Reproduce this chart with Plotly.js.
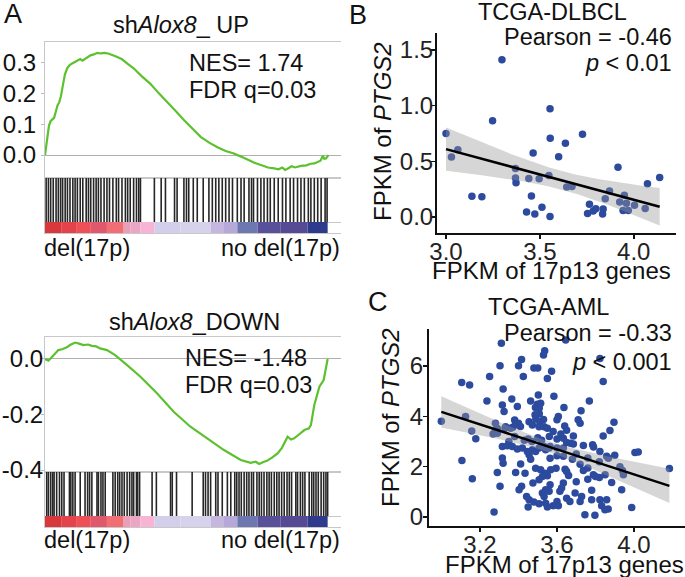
<!DOCTYPE html>
<html lang="en">
<head>
    <meta charset="UTF-8">
    <title>GSEA and PTGS2 correlation</title>
    <script src="https://cdn.plot.ly/plotly-3.0.1.min.js"></script>
    <style>
        body { margin: 0; padding: 0; background: white; }
        #plot { width: 685px; height: 577px; }
    </style>
</head>
<body>
<div id="plot"></div>
<script>
    // ---- panel A: running enrichment scores (rank, ES) ----
    const upRank = [0, 4, 8, 14, 20, 26, 32, 38, 44, 50, 56, 62, 70, 78, 86, 94, 104, 114, 124, 132, 140, 150, 160, 172, 184, 196, 210, 222, 234, 246, 258, 270, 290, 312, 340, 371, 400, 430, 460, 489, 518, 548, 578, 607, 636, 665, 690, 713, 737, 760, 785, 807, 822, 835, 845, 854, 868, 880, 901, 920, 935, 948, 960, 970, 978, 983, 989, 994, 998];
    const upES = [0, 0.03, 0.06, 0.095, 0.11, 0.115, 0.12, 0.14, 0.16, 0.17, 0.19, 0.22, 0.26, 0.28, 0.29, 0.295, 0.30, 0.305, 0.31, 0.305, 0.31, 0.318, 0.322, 0.325, 0.33, 0.328, 0.33, 0.328, 0.325, 0.32, 0.315, 0.31, 0.295, 0.28, 0.255, 0.23, 0.20, 0.172, 0.142, 0.113, 0.085, 0.059, 0.04, 0.025, 0.013, 0.005, -0.005, -0.015, -0.025, -0.032, -0.04, -0.043, -0.046, -0.040, -0.048, -0.044, -0.036, -0.040, -0.035, -0.033, -0.028, -0.027, -0.022, -0.018, -0.002, -0.012, -0.011, -0.004, 0.0];

    const downRank = [0, 12, 18, 28, 47, 60, 77, 88, 106, 120, 135, 152, 165, 180, 194, 218, 233, 247, 289, 336, 395, 453, 512, 571, 630, 689, 707, 724, 742, 754, 767, 783, 799, 819, 834, 854, 866, 877, 894, 913, 929, 936, 948, 958, 966, 981, 995];
    const downES = [0, -0.006, 0.0, 0.012, 0.032, 0.035, 0.042, 0.05, 0.059, 0.055, 0.05, 0.052, 0.047, 0.045, 0.038, 0.032, 0.022, 0.014, -0.022, -0.064, -0.124, -0.19, -0.244, -0.286, -0.328, -0.364, -0.368, -0.374, -0.37, -0.378, -0.372, -0.366, -0.355, -0.34, -0.32, -0.28, -0.29, -0.286, -0.272, -0.256, -0.25, -0.238, -0.166, -0.13, -0.10, -0.076, 0.0];

    // gene set hits (rank positions)
    const upHits = [4, 12, 20, 29, 39, 47, 55, 62, 71, 79, 88, 98, 106, 114, 124, 133, 145, 153, 161, 171, 180, 188, 197, 208, 218, 227, 239, 251, 259, 271, 283, 291, 300, 312, 322, 330, 336, 385, 409, 424, 456, 465, 489, 498, 506, 522, 536, 557, 577, 589, 601, 612, 624, 636, 648, 660, 677, 690, 701, 718, 727, 734, 748, 760, 771, 783, 793, 807, 821, 836, 848, 863, 875, 889, 901, 913, 927, 936, 948, 960, 972, 986, 993];
    const downHits = [6, 12, 20, 27, 32, 41, 51, 59, 67, 86, 91, 98, 106, 124, 141, 150, 157, 165, 183, 188, 197, 204, 212, 239, 247, 256, 263, 271, 279, 289, 298, 306, 312, 322, 326, 333, 377, 392, 442, 448, 463, 518, 557, 565, 574, 583, 601, 609, 624, 642, 654, 668, 675, 683, 691, 701, 710, 718, 727, 734, 746, 754, 762, 771, 781, 789, 797, 807, 816, 824, 833, 842, 852, 860, 868, 883, 889, 899, 907, 915, 930, 939, 946, 954, 962, 972, 981, 989, 995];

    // ranked-list colour bar
    const barEdges = [0, 59, 112, 159, 218, 277, 300, 336, 385, 477, 583, 630, 677, 748, 830, 924, 995];
    const barColors = ['#d8383c', '#e5434b', '#ee5058', '#e0586c', '#f06e74', '#e8a0b8', '#eaa6c4', '#f8b4d4', '#d3cee9', '#d7d2ec', '#c4b6de', '#b6a8d8', '#6e78b0', '#59509a', '#564a94', '#2e3b8c'];

    // ---- panel B: TCGA-DLBCL ----
    const dlbclX = [3.298, 3.554, 3.248, 3.000, 3.727, 3.555, 3.636, 3.063, 3.029, 3.464,
        3.600, 3.916, 3.370, 3.370, 3.373, 3.441, 3.496, 3.548, 4.073, 4.138,
        3.138, 3.191, 3.455, 3.429, 3.473, 3.511, 3.554, 3.643, 3.671, 3.871,
        3.848, 3.764, 3.754, 3.784, 3.798, 3.837, 3.834, 3.925, 3.950, 3.943,
        3.961, 3.971, 4.004, 4.061];
    const dlbclY = [1.413, 0.973, 0.865, 0.751, 0.743, 0.707, 0.662, 0.605, 0.539, 0.575,
        0.542, 0.446, 0.437, 0.350, 0.308, 0.347, 0.344, 0.374, 0.299, 0.356,
        0.186, 0.183, 0.189, 0.045, 0.027, 0.087, 0.006, 0.269, 0.275, 0.234,
        0.165, 0.114, 0.033, 0.054, 0.075, 0.072, 0.027, 0.135, 0.195, 0.060,
        0.123, 0.060, 0.105, 0.078];

    // ---- panel C: TCGA-AML ----
    const amlX = [3.311, 3.645, 3.536, 3.530, 3.416, 3.823, 3.304, 3.400, 3.480, 3.500,
        3.572, 3.250, 3.425, 3.550, 3.840, 3.105, 3.146, 3.320, 3.236, 3.365,
        3.463, 3.503, 3.584, 3.768, 3.394, 3.498, 3.515, 3.488, 3.508, 3.636,
        3.725, 3.316, 3.325, 3.125, 2.999, 3.486, 3.508, 3.490, 3.530, 3.510,
        3.607, 3.600, 3.710, 3.720, 3.896, 3.380, 3.385, 3.370, 3.400, 3.280,
        3.290, 3.330, 3.157, 3.268, 3.178, 3.106, 3.160, 3.273, 3.290, 3.304,
        3.316, 3.320, 3.640, 3.685, 3.840, 3.875, 3.633, 3.650, 3.670, 3.685,
        3.737, 3.785, 3.790, 3.823, 3.858, 3.867, 4.005, 4.022, 4.184, 3.564,
        3.600, 3.633, 3.633, 3.600, 3.564, 3.595, 3.642, 3.650, 3.737, 3.789,
        3.800, 3.820, 3.850, 3.884, 3.927, 3.945, 3.936, 3.564, 3.633, 3.624,
        3.615, 3.694, 3.728, 3.720, 3.650, 3.667, 3.780, 3.780, 3.823, 3.858,
        3.832, 3.866, 3.849, 3.745, 3.797, 3.988, 3.280, 3.290, 3.333, 3.360,
        3.394, 3.410, 3.455, 3.472, 3.507, 3.533, 3.550, 3.316, 3.342, 3.368,
        3.394, 3.420, 3.446, 3.455, 3.463, 3.472, 3.489, 3.507, 3.533, 3.541,
        3.559, 3.411, 3.385, 3.434, 3.489, 3.515, 3.538, 3.550, 3.567, 3.524,
        3.507, 3.475, 3.416, 3.403, 3.541, 3.524, 3.533, 3.559, 3.442, 3.455,
        3.450, 3.507, 3.541, 3.550, 3.600, 3.607, 3.480, 3.580, 3.430, 3.450,
        3.470, 3.500, 3.520, 3.560, 3.600, 3.350, 3.380, 3.580, 3.620, 3.650,
        3.700, 3.760, 3.720, 3.680, 3.760, 3.700, 3.660, 3.760, 3.820, 3.900, 3.940];
    const amlY = [6.90, 7.03, 6.61, 6.44, 6.26, 6.30, 6.01, 6.01, 5.92, 5.92,
        5.79, 5.58, 5.58, 5.50, 5.38, 5.34, 5.25, 5.09, 4.61, 4.69,
        4.61, 4.85, 4.80, 4.61, 4.39, 4.48, 4.52, 4.35, 4.33, 4.35,
        4.22, 4.45, 4.19, 3.99, 3.81, 4.06, 4.10, 3.89, 3.87, 3.79,
        3.99, 3.86, 3.86, 3.73, 3.77, 3.85, 3.70, 3.57, 3.73, 3.73,
        3.52, 3.53, 3.42, 3.30, 3.11, 2.25, 1.52, 0.20, 1.77, 1.22,
        2.35, 2.14, 3.62, 3.22, 3.22, 3.44, 3.13, 2.96, 2.93, 2.90,
        2.84, 2.87, 2.78, 2.60, 2.41, 2.34, 2.56, 2.58, 1.93, 2.80,
        2.74, 2.74, 2.41, 2.43, 2.34, 1.94, 1.90, 1.81, 1.85, 1.68,
        1.61, 1.57, 1.68, 1.37, 2.00, 1.68, 1.08, 1.28, 1.35, 1.15,
        1.02, 0.95, 0.82, 0.62, 0.75, 0.62, 1.06, 0.69, 0.69, 0.69,
        0.45, 0.32, 0.29, 0.09, 0.07, 0.38, 3.46, 3.33, 3.59, 3.53,
        3.67, 3.60, 3.79, 3.66, 3.59, 3.59, 3.53, 2.80, 2.83, 2.80,
        2.70, 2.74, 2.60, 2.47, 2.30, 2.67, 2.60, 2.74, 2.80, 2.67,
        2.74, 2.11, 1.77, 1.74, 1.94, 1.88, 1.74, 1.64, 1.88, 1.61,
        1.48, 1.35, 1.22, 1.08, 1.08, 0.95, 0.82, 1.02, 0.82, 0.69,
        0.40, 0.53, 0.55, 0.40, 0.62, 0.45, 0.60, 0.45, 3.05, 3.10,
        3.00, 3.15, 3.05, 3.20, 3.10, 3.00, 3.20, 3.40, 3.30, 3.45,
        2.50, 2.35, 2.10, 2.30, 1.95, 1.40, 1.65, 1.50, 2.20, 2.45, 1.85];

    const W = 685, H = 577;
    const px = v => v / W;
    const py = v => 1 - v / H;
    const FONT = 'Liberation Sans, Arial, sans-serif';

    // least squares fit + 95% band, like geom_smooth(method = "lm")
    function lmBand(xs, ys, steps) {
        const n = xs.length;
        const mx = xs.reduce((a, b) => a + b, 0) / n;
        const my = ys.reduce((a, b) => a + b, 0) / n;
        let sxx = 0, sxy = 0;
        for (let i = 0; i < n; i++) {
            sxx += (xs[i] - mx) ** 2;
            sxy += (xs[i] - mx) * (ys[i] - my);
        }
        const b = sxy / sxx, a = my - b * mx;
        let sse = 0;
        for (let i = 0; i < n; i++) sse += (ys[i] - a - b * xs[i]) ** 2;
        const s = Math.sqrt(sse / (n - 2));
        const t = 1.96 + 2.5 / (n - 2);
        const lo = Math.min(...xs), hi = Math.max(...xs);
        const gx = [], fit = [], up = [], dn = [];
        for (let i = 0; i <= steps; i++) {
            const x = lo + (hi - lo) * i / steps;
            const f = a + b * x;
            const se = s * Math.sqrt(1 / n + (x - mx) ** 2 / sxx);
            gx.push(x); fit.push(f); up.push(f + t * se); dn.push(f - t * se);
        }
        return {gx, fit, up, dn};
    }

    function scatterTraces(xs, ys, xa, ya) {
        const band = lmBand(xs, ys, 60);
        return [
            {
                x: xs, y: ys, type: 'scatter', mode: 'markers', xaxis: xa, yaxis: ya,
                marker: {color: '#2c4a9e', size: 7.5}, hoverinfo: 'skip'
            },
            {
                x: band.gx.concat(band.gx.slice().reverse()),
                y: band.up.concat(band.dn.slice().reverse()),
                type: 'scatter', mode: 'lines', fill: 'toself', xaxis: xa, yaxis: ya,
                fillcolor: 'rgba(153,153,153,0.4)', line: {width: 0}, hoverinfo: 'skip'
            },
            {
                x: band.gx, y: band.fit, type: 'scatter', mode: 'lines', xaxis: xa, yaxis: ya,
                line: {color: 'black', width: 2.5}, hoverinfo: 'skip'
            }
        ];
    }

    function gseaTraces(rank, es, hits, n) {
        const xa = 'x' + (n === 1 ? '' : n), ya = 'y' + (n === 1 ? '' : n);
        const xb = 'x' + (n + 1), yb = 'y' + (n + 1);
        const hx = [], hy = [];
        hits.forEach(r => { hx.push(r, r, null); hy.push(0.2, 1, null); });
        const centers = [], widths = [];
        for (let i = 0; i < barColors.length; i++) {
            centers.push((barEdges[i] + barEdges[i + 1]) / 2);
            widths.push(barEdges[i + 1] - barEdges[i]);
        }
        return [
            {
                x: rank, y: es, type: 'scatter', mode: 'lines', xaxis: xa, yaxis: ya,
                line: {color: '#5cc12e', width: 2.2}, hoverinfo: 'skip'
            },
            {
                x: hx, y: hy, type: 'scatter', mode: 'lines', xaxis: xb, yaxis: yb,
                line: {color: '#262626', width: 1.6}, hoverinfo: 'skip'
            },
            {
                x: centers, y: centers.map(() => 0.2), width: widths, type: 'bar',
                xaxis: xb, yaxis: yb, marker: {color: barColors, line: {width: 0}},
                hoverinfo: 'skip'
            }
        ];
    }

    const frame = '#c8c8c8';
    const gseaX = (top, bottom, anchor) => ({
        domain: [px(45), px(341)], range: [0, 1042], anchor: anchor,
        showline: true, mirror: true, linecolor: frame, linewidth: 1,
        showticklabels: false, ticks: '', showgrid: false, zeroline: false
    });
    const gseaCurveY = (top, bottom, range, vals, text, anchor, standoff) => ({
        domain: [py(bottom), py(top)], range: range, anchor: anchor,
        tickvals: vals, ticktext: text, ticks: 'outside', ticklen: 3, tickcolor: '#bbb',
        ticklabelstandoff: standoff,
        tickfont: {family: FONT, size: 24, color: '#111'},
        showline: true, linecolor: frame, showgrid: false,
        zeroline: true, zerolinecolor: '#b0b0b0', zerolinewidth: 1
    });
    const gseaHitY = (top, bottom, anchor) => ({
        domain: [py(bottom), py(top)], range: [0, 1], anchor: anchor,
        showline: true, linecolor: frame, showticklabels: false, ticks: '',
        tickvals: [0.2], showgrid: true, gridcolor: frame, zeroline: false
    });

    const scatAxis = extra => Object.assign({
        showline: true, linecolor: '#111', linewidth: 2,
        ticks: 'outside', ticklen: 4, tickwidth: 1.5, tickcolor: '#111',
        tickfont: {family: FONT, size: 24, color: '#222'},
        showgrid: false, zeroline: false
    }, extra);

    const ann = (text, x, y, xanchor, size, angle) => ({
        text: text, x: px(x), y: py(y), xref: 'paper', yref: 'paper',
        xanchor: xanchor, yanchor: 'middle', showarrow: false, textangle: angle || 0,
        font: {family: FONT, size: size || 23.5, color: '#111'}
    });

    const traces = [].concat(
        gseaTraces(upRank, upES, upHits, 1),
        gseaTraces(downRank, downES, downHits, 3),
        scatterTraces(dlbclX, dlbclY, 'x5', 'y5'),
        scatterTraces(amlX, amlY, 'x6', 'y6')
    );

    const layout = {
        width: W, height: H,
        margin: {l: 0, r: 0, t: 0, b: 0},
        paper_bgcolor: 'white', plot_bgcolor: 'white',
        showlegend: false,
        font: {family: FONT, color: '#111'},
        barmode: 'overlay',

        xaxis: gseaX(42, 178, 'y'),
        yaxis: gseaCurveY(42, 178, [-0.074, 0.365], [0, 0.1, 0.2, 0.3], ['0.0', '0.1', '0.2', '0.3'], 'x', 0),
        xaxis2: gseaX(178, 233, 'y2'),
        yaxis2: gseaHitY(178, 233, 'x2'),
        xaxis3: gseaX(337, 472, 'y3'),
        yaxis3: gseaCurveY(337, 472, [-0.407, 0.079], [0, -0.2, -0.4], ['0.0', '-0.2', '-0.4'], 'x3', -7),
        xaxis4: gseaX(472, 527, 'y4'),
        yaxis4: gseaHitY(472, 527, 'x4'),

        xaxis5: scatAxis({
            domain: [px(437), px(676)], range: [2.952, 4.225], anchor: 'y5',
            tickvals: [3, 3.5, 4], ticktext: ['3.0', '3.5', '4.0'], ticklabelstandoff: -8
        }),
        yaxis5: scatAxis({
            domain: [py(233), py(33)], range: [-0.143, 1.652], anchor: 'x5',
            tickvals: [0, 0.5, 1, 1.5], ticktext: ['0.0', '0.5', '1.0', '1.5'], ticklabelstandoff: -7
        }),
        xaxis6: scatAxis({
            domain: [px(429), 1], range: [2.935, 4.265], anchor: 'y6',
            tickvals: [3.2, 3.6, 4.0], ticktext: ['3.2', '3.6', '4.0'], ticklabelstandoff: -8
        }),
        yaxis6: scatAxis({
            domain: [py(526), py(329)], range: [-0.356, 7.47], anchor: 'x6',
            tickvals: [0, 2, 4, 6], ticklabelstandoff: -5
        }),

        annotations: [
            ann('A', 2, 14, 'left', 27),
            ann('sh<i>Alox8</i>_ UP', 181, 25, 'center'),
            ann('NES= 1.74', 187, 63, 'left'),
            ann('FDR q=0.03', 187, 90, 'left'),
            ann('del(17p)', 42, 248, 'left'),
            ann('no del(17p)', 342, 248, 'right'),
            ann('sh<i>Alox8</i>_DOWN', 194, 322, 'center'),
            ann('NES= -1.48', 183, 358, 'left'),
            ann('FDR q=0.03', 183, 385, 'left'),
            ann('del(17p)', 42, 540, 'left'),
            ann('no del(17p)', 342, 540, 'right'),
            ann('B', 347, 15, 'left', 27),
            ann('TCGA-DLBCL', 552, 12, 'center'),
            ann('Pearson = -0.46', 674, 37, 'right'),
            ann('<i>p</i> < 0.01', 674, 63, 'right'),
            ann('FPKM of 17p13 genes', 551, 270, 'center', 24),
            ann('FPKM of <i>PTGS2</i>', 382, 132, 'center', 24, -90),
            ann('C', 366, 302, 'left', 27),
            ann('TCGA-AML', 548, 307, 'center'),
            ann('Pearson = -0.33', 674, 333, 'right'),
            ann('<i>p</i> < 0.001', 674, 362, 'right'),
            ann('FPKM of 17p13 genes', 443, 564, 'left', 24),
            ann('FPKM of <i>PTGS2</i>', 390, 418, 'center', 24, -90)
        ]
    };

    Plotly.newPlot('plot', traces, layout, {displayModeBar: false, staticPlot: true});
</script>
</body>
</html>
